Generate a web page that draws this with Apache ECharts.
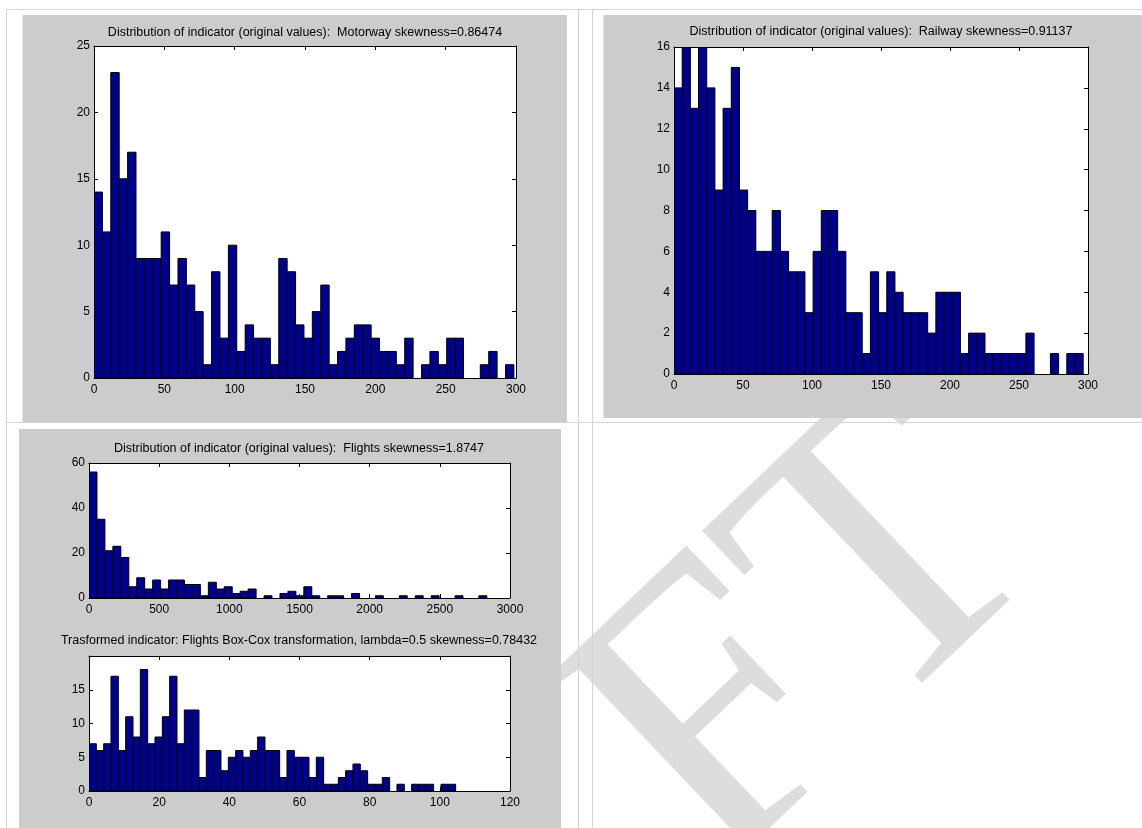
<!DOCTYPE html>
<html>
<head>
<meta charset="utf-8">
<script src="https://cdn.jsdelivr.net/npm/echarts/dist/echarts.min.js"></script>
<style>
html,body{margin:0;padding:0;background:#ffffff;}
#chart{width:1142px;height:828px;}
</style>
</head>
<body>
<div id="chart"></div>
<script>
// ---- Data (counts per histogram bin) ----
const motorwayCounts = [14,11,23,15,17,9,9,9,11,7,9,7,5,1,8,3,10,2,4,3,3,1,9,8,4,3,5,7,1,2,3,4,4,3,2,2,1,3,0,1,2,1,3,3,0,0,1,2,0,1];
const motorwayBinStart = 0;
const motorwayBinWidth = 5.97;

const railwayCounts = [14,16,13,16,14,9,13,15,9,8,6,6,8,6,5,5,3,6,8,8,6,3,3,1,5,3,5,4,3,3,3,2,4,4,4,1,2,2,1,1,1,1,1,2,0,0,1,0,1,1];
const railwayBinStart = 0;
const railwayBinWidth = 5.93;

const flightsCounts = [56,35,21,23,18,5,9,4,8,4,8,8,6,6,1,7,4,5,2,3,4,0,1,0,2,3,1,5,1,0,1,1,0,2,0,0,1,0,0,1,0,1,0,1,0,0,1,0,0,1];
const flightsBinStart = 0;
const flightsBinWidth = 56.7;

const boxcoxCounts = [7,6,7,17,6,11,8,18,7,8,11,17,7,12,12,2,6,6,3,5,6,5,6,8,6,6,2,6,5,5,2,5,1,1,2,3,4,3,1,1,2,0,1,0,1,1,1,0,1,1];
const boxcoxBinStart = 0;
const boxcoxBinWidth = 2.09;

// axis ranges / tick steps
const motorwayX = [0, 300, 50], motorwayY = [0, 25, 5];
const railwayX = [0, 300, 50], railwayY = [0, 16, 2];
const flightsX = [0, 3000, 500], flightsY = [0, 60, 20];
const boxcoxX = [0, 120, 20], boxcoxY = [0, 20, 5];

const titles = [
  'Distribution of indicator (original values):  Motorway skewness=0.86474',
  'Distribution of indicator (original values):  Railway skewness=0.91137',
  'Distribution of indicator (original values):  Flights skewness=1.8747',
  'Trasformed indicator: Flights Box-Cox transformation, lambda=0.5 skewness=0.78432'
];
const watermarkText = 'DRAFT';

// ---- Build ----
function bins(start, width, counts) {
  return counts.map(function (c, i) { return [start + i * width, start + (i + 1) * width, c]; });
}

const FONT = 'Liberation Sans, Arial, sans-serif';
const BAR = '#00008f';

const grids = [
  {left: 94, top: 46, width: 422, height: 332},
  {left: 674, top: 47, width: 414, height: 327},
  {left: 89, top: 463, width: 421, height: 135},
  {left: 89, top: 656, width: 421, height: 135}
];
const panels = [
  {x: 22.5, y: 15, width: 544.5, height: 407},
  {x: 603.5, y: 15, width: 540, height: 403},
  {x: 19, y: 429, width: 542, height: 400}
];
const titlePos = [[305, 26], [881, 25], [299, 442], [299, 634]];

const specs = [
  {x: motorwayX, y: motorwayY, data: bins(motorwayBinStart, motorwayBinWidth, motorwayCounts)},
  {x: railwayX, y: railwayY, data: bins(railwayBinStart, railwayBinWidth, railwayCounts)},
  {x: flightsX, y: flightsY, data: bins(flightsBinStart, flightsBinWidth, flightsCounts)},
  {x: boxcoxX, y: boxcoxY, data: bins(boxcoxBinStart, boxcoxBinWidth, boxcoxCounts), hideMaxY: true}
];

function plain(v) { return String(v); }

const xAxes = [], yAxes = [], series = [], titleOpts = [];
specs.forEach(function (s, i) {
  const line = {show: true, onZero: false, lineStyle: {color: '#000', width: 1}};
  const tick = {show: true, inside: true, length: 4, lineStyle: {color: '#000', width: 1}};
  xAxes.push({
    type: 'value', gridIndex: i, position: 'bottom', min: s.x[0], max: s.x[1], interval: s.x[2],
    axisLine: line, axisTick: tick, splitLine: {show: false},
    axisLabel: {show: true, color: '#000', fontFamily: FONT, fontSize: 12, margin: 6, hideOverlap: false, formatter: plain}
  });
  xAxes.push({
    type: 'value', gridIndex: i, position: 'top', min: s.x[0], max: s.x[1], interval: s.x[2],
    axisLine: line, axisTick: tick, splitLine: {show: false}, axisLabel: {show: false}
  });
  yAxes.push({
    type: 'value', gridIndex: i, position: 'left', min: s.y[0], max: s.y[1], interval: s.y[2],
    axisLine: line, axisTick: tick, splitLine: {show: false},
    axisLabel: {show: true, color: '#000', fontFamily: FONT, fontSize: 12, margin: 4,
      showMaxLabel: !s.hideMaxY, hideOverlap: false, formatter: plain}
  });
  yAxes.push({
    type: 'value', gridIndex: i, position: 'right', min: s.y[0], max: s.y[1], interval: s.y[2],
    axisLine: line, axisTick: tick, splitLine: {show: false}, axisLabel: {show: false}
  });
  series.push({
    type: 'custom', xAxisIndex: 2 * i, yAxisIndex: 2 * i, data: s.data,
    encode: {x: [0, 1], y: 2}, clip: true, z: 3,
    renderItem: function (params, api) {
      const c = api.value(2);
      if (!c) return null;
      const p0 = api.coord([api.value(0), 0]);
      const p1 = api.coord([api.value(1), c]);
      return {
        type: 'rect',
        shape: {x: p0[0], y: p1[1], width: p1[0] - p0[0], height: p0[1] - p1[1]},
        style: {fill: BAR, stroke: '#000', lineWidth: 1}
      };
    }
  });
  titleOpts.push({
    text: titles[i], left: titlePos[i][0], top: titlePos[i][1], textAlign: 'center', padding: 0,
    textStyle: {color: '#000', fontFamily: FONT, fontSize: 12.5, fontWeight: 'normal'}
  });
});

const graphics = [];
// watermark (behind everything)
graphics.push({
  type: 'text', x: 982, y: 481, rotation: 0.76, z: -3, silent: true,
  style: {text: watermarkText, font: '400px "Liberation Serif", "Times New Roman", serif', fill: '#dddddd',
    align: 'right', verticalAlign: 'middle', textAlign: 'right', textVerticalAlign: 'middle'}
});
panels.forEach(function (p) {
  graphics.push({type: 'rect', z: -2, silent: true, shape: p, style: {fill: '#cccccc'}});
});
const tableLines = [
  [6, 9.5, 1142, 9.5], [6, 422.5, 1142, 422.5],
  [6.5, 9, 6.5, 828], [578.5, 9, 578.5, 828], [592.5, 9, 592.5, 828]
];
tableLines.forEach(function (l) {
  graphics.push({type: 'line', z: -1, silent: true, shape: {x1: l[0], y1: l[1], x2: l[2], y2: l[3]},
    style: {stroke: '#d4d4d4', lineWidth: 1}});
});

const chart = echarts.init(document.getElementById('chart'), null, {renderer: 'canvas'});
chart.setOption({
  animation: false,
  backgroundColor: '#ffffff',
  title: titleOpts,
  grid: grids.map(function (g) {
    return Object.assign({show: true, backgroundColor: '#ffffff', borderWidth: 0, containLabel: false, outerBoundsMode: 'none'}, g);
  }),
  xAxis: xAxes,
  yAxis: yAxes,
  series: series,
  graphic: {elements: graphics}
});
</script>
</body>
</html>
